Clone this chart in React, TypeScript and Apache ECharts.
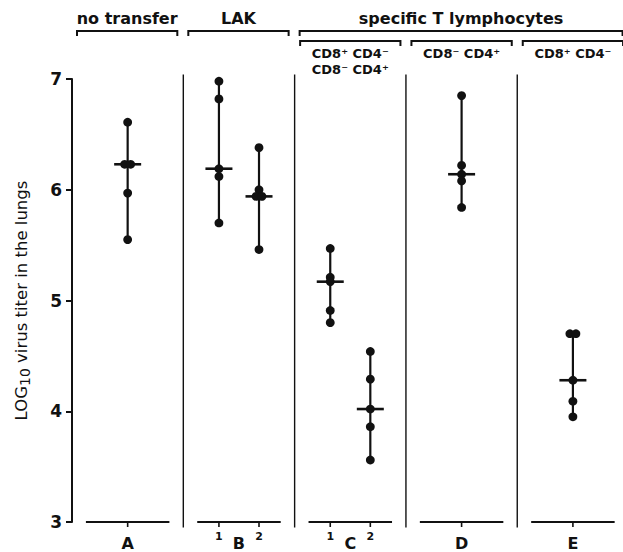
import React, { useEffect, useRef } from "react";
import * as echarts from "echarts";

const panelLabels = ["A", "B", "C", "D", "E"];
const columnPanel = [0, 1, 1, 2, 2, 3, 4];
const columnSub = ["", "1", "2", "1", "2", "", ""];
const columnSide = [0, -1, 1, -1, 1, 0, 0];

const valuesA = [6.61, 6.23, 6.23, 5.97, 5.55];
const valuesB1 = [6.98, 6.82, 6.19, 6.12, 5.7];
const valuesB2 = [6.38, 6.0, 5.94, 5.94, 5.46];
const valuesC1 = [5.47, 5.21, 5.17, 4.91, 4.8];
const valuesC2 = [4.54, 4.29, 4.02, 3.86, 3.56];
const valuesD = [6.85, 6.22, 6.14, 6.08, 5.84];
const valuesE = [4.7, 4.7, 4.28, 4.09, 3.95];
const columnValues = [valuesA, valuesB1, valuesB2, valuesC1, valuesC2, valuesD, valuesE];

const yMin = 3;
const yMax = 7;
const yStep = 1;

const groupTitles = ["no transfer", "LAK", "specific T lymphocytes"];
const groupFirstPanel = [0, 1, 2];
const groupLastPanel = [0, 1, 4];
const subTitlePanels = [2, 3, 4];
const subTitleLines = [["CD8⁺ CD4⁻", "CD8⁻ CD4⁺"], ["CD8⁻ CD4⁺"], ["CD8⁺ CD4⁻"]];

const INK = "#111";
const FONT = "DejaVu Sans";
const SUB_OFFSET = 0.18;

function median(v: number[]) {
  const s = [...v].sort((a, b) => a - b);
  const m = Math.floor(s.length / 2);
  return s.length % 2 ? s[m] : (s[m - 1] + s[m]) / 2;
}

export default function App() {
  const ref = useRef<HTMLDivElement>(null);
  useEffect(() => {
    if (!ref.current) return;
    const chart = echarts.init(ref.current, null, { renderer: "svg" });

    const columnsSeries = {
      type: "custom",
      clip: false,
      data: columnValues.map((_, i) => [i]),
      renderItem: (params: any, api: any) => {
        const i = params.dataIndex;
        const vals = columnValues[i];
        const x = columnPanel[i] + 0.5 + columnSide[i] * SUB_OFFSET;
        const top = api.coord([x, Math.max(...vals)]);
        const bot = api.coord([x, Math.min(...vals)]);
        const med = api.coord([x, median(vals)]);
        const base = api.coord([x, yMin]);
        const children: any[] = [
          { type: "line", shape: { x1: top[0], y1: top[1], x2: bot[0], y2: bot[1] }, style: { stroke: INK, lineWidth: 2.2 } },
          { type: "line", shape: { x1: med[0] - 13.5, y1: med[1], x2: med[0] + 13.5, y2: med[1] }, style: { stroke: INK, lineWidth: 2.6 } },
          { type: "line", shape: { x1: base[0], y1: base[1], x2: base[0], y2: base[1] + 5 }, style: { stroke: INK, lineWidth: 1.6 } },
        ];
        const counts: Record<string, number> = {};
        vals.forEach((v) => (counts[v] = (counts[v] || 0) + 1));
        const seen: Record<string, number> = {};
        vals.forEach((v) => {
          const n = counts[v];
          const k = seen[v] || 0;
          seen[v] = k + 1;
          const p = api.coord([x, v]);
          const dx = (k - (n - 1) / 2) * 6;
          children.push({ type: "circle", shape: { cx: p[0] + dx, cy: p[1], r: 4.4 }, style: { fill: INK } });
        });
        if (columnSub[i]) {
          children.push({
            type: "text",
            style: { text: columnSub[i], x: base[0], y: base[1] + 14, fill: INK, font: `bold 11px "${FONT}"`, align: "center", verticalAlign: "middle" },
          });
        }
        return { type: "group", children };
      },
    };

    const panelsSeries = {
      type: "custom",
      clip: false,
      data: panelLabels.map((_, p) => [p]),
      renderItem: (params: any, api: any) => {
        const p = params.dataIndex;
        const l = api.coord([p + 0.125, yMin]);
        const r = api.coord([p + 0.875, yMin]);
        const c = api.coord([p + 0.5, yMin]);
        const children: any[] = [
          { type: "line", shape: { x1: l[0], y1: l[1], x2: r[0], y2: r[1] }, style: { stroke: INK, lineWidth: 2 } },
          {
            type: "text",
            style: { text: panelLabels[p], x: c[0], y: c[1] + 21, fill: INK, font: `bold 16px "${FONT}"`, align: "center", verticalAlign: "middle" },
          },
        ];
        if (p > 0) {
          const t = api.coord([p, yMax + 0.04]);
          const b = api.coord([p, yMin - 0.05]);
          children.push({ type: "line", shape: { x1: t[0], y1: t[1], x2: b[0], y2: b[1] }, style: { stroke: INK, lineWidth: 1.4 } });
        }
        return { type: "group", children };
      },
    };

    const bracket = (x0: number, x1: number, y: number) => ({
      type: "polyline",
      shape: { points: [[x0, y + 5], [x0, y], [x1, y], [x1, y + 5]] },
      style: { stroke: INK, lineWidth: 2, fill: "none" },
    });

    const headerSeries = {
      type: "custom",
      clip: false,
      data: groupTitles.map((_, g) => [g]),
      renderItem: (params: any, api: any) => {
        const g = params.dataIndex;
        const topY = api.coord([0, yMax])[1];
        const x0 = api.coord([groupFirstPanel[g], yMax])[0] + 5;
        const x1 = api.coord([groupLastPanel[g] + 1, yMax])[0] - 6;
        const yb = topY - 48;
        return {
          type: "group",
          children: [
            bracket(x0, x1, yb),
            {
              type: "text",
              style: { text: groupTitles[g], x: (x0 + x1) / 2, y: yb - 13, fill: INK, font: `bold 16px "${FONT}"`, align: "center", verticalAlign: "middle" },
            },
          ],
        };
      },
    };

    const subHeaderSeries = {
      type: "custom",
      clip: false,
      data: subTitlePanels.map((_, s) => [s]),
      renderItem: (params: any, api: any) => {
        const s = params.dataIndex;
        const p = subTitlePanels[s];
        const topY = api.coord([0, yMax])[1];
        const x0 = api.coord([p, yMax])[0] + 5.5;
        const x1 = api.coord([p + 1, yMax])[0] - 5.5;
        const yb = topY - 38;
        const children: any[] = [bracket(x0, x1, yb)];
        subTitleLines[s].forEach((line, k) => {
          children.push({
            type: "text",
            style: { text: line, x: (x0 + x1) / 2, y: yb + 12 + k * 16, fill: INK, font: `bold 13px "${FONT}"`, align: "center", verticalAlign: "middle" },
          });
        });
        return { type: "group", children };
      },
    };

    chart.setOption({
      animation: false,
      backgroundColor: "#fff",
      grid: { left: 72, right: 0, top: 79, bottom: 30, containLabel: false },
      xAxis: { type: "value", min: 0, max: 4.95, show: false },
      yAxis: {
        type: "value",
        min: yMin,
        max: yMax,
        interval: yStep,
        axisLine: { show: true, lineStyle: { color: INK, width: 2 } },
        axisTick: { show: true, length: 6, lineStyle: { color: INK, width: 2 } },
        axisLabel: { color: INK, fontSize: 17, fontWeight: "bold", fontFamily: FONT, margin: 10 },
        splitLine: { show: false },
        name: "LOG{sub|10} virus titer in the lungs",
        nameLocation: "middle",
        nameGap: 40,
        nameRotate: 90,
        nameTextStyle: {
          color: INK,
          fontSize: 16.5,
          fontFamily: FONT,
          rich: { sub: { fontSize: 14, fontFamily: FONT, color: INK, padding: [7, 0, 0, 0] } },
        },
      },
      series: [panelsSeries, columnsSeries, headerSeries, subHeaderSeries],
    });
    return () => chart.dispose();
  }, []);
  return <div ref={ref} style={{ position: "absolute", left: 0, top: 0, width: 623, height: 552 }} />;
}
